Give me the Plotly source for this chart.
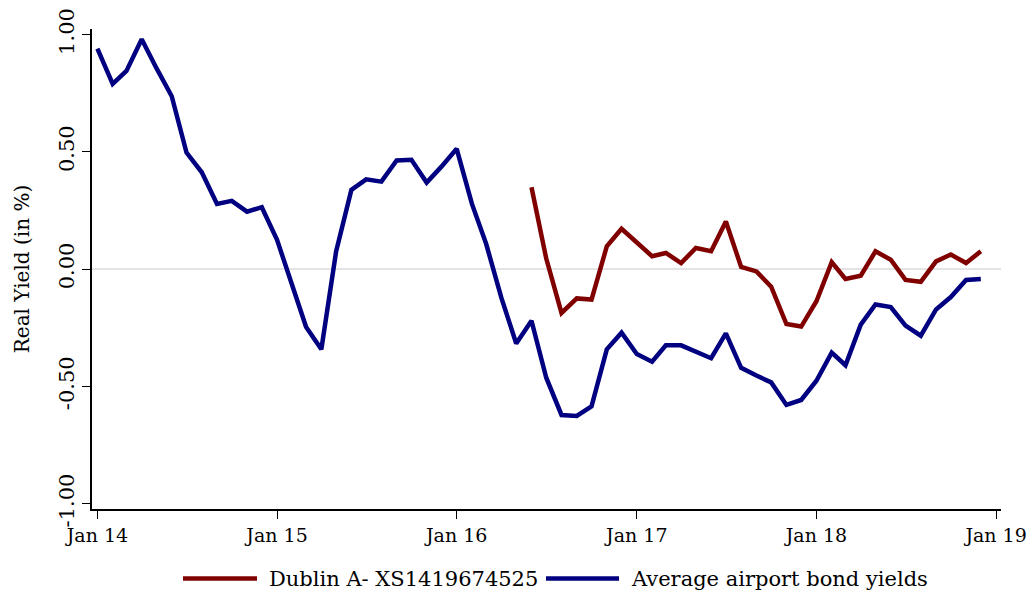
import pandas as pd
import plotly.graph_objects as go

# Monthly real yields (in %)
avg_dates = pd.date_range("2014-01-01", periods=60, freq="MS")
avg_airport = [
    0.940, 0.790, 0.845, 0.980, 0.857, 0.737, 0.497, 0.413, 0.278, 0.291, 0.245, 0.264,
    0.125, -0.075, -0.247, -0.342, 0.075, 0.338, 0.383, 0.373, 0.463, 0.466, 0.369, 0.437,
    0.513, 0.278, 0.107, -0.124, -0.317, -0.220, -0.463, -0.622, -0.626, -0.585, -0.342, -0.271,
    -0.362, -0.395, -0.325, -0.325, -0.353, -0.380, -0.274, -0.421, -0.454, -0.483, -0.579, -0.558,
    -0.476, -0.356, -0.410, -0.237, -0.151, -0.162, -0.241, -0.284, -0.172, -0.119, -0.046, -0.042,
]

dublin_dates = pd.date_range("2016-06-01", periods=31, freq="MS")
dublin = [
    0.349, 0.045, -0.187, -0.125, -0.130, 0.097, 0.172,
    0.115, 0.055, 0.069, 0.026, 0.090, 0.076, 0.203, 0.009, -0.010, -0.075, -0.234, -0.245,
    -0.137, 0.030, -0.042, -0.028, 0.076, 0.040, -0.046, -0.054, 0.033, 0.062, 0.026, 0.076,
]

x_tickvals = ["2014-01-01", "2015-01-01", "2016-01-01", "2017-01-01", "2018-01-01", "2019-01-01"]
x_ticktext = ["Jan 14", "Jan 15", "Jan 16", "Jan 17", "Jan 18", "Jan 19"]
y_tickvals = [-1.0, -0.5, 0.0, 0.5, 1.0]
y_ticktext = ["-1.00", "-0.50", "0.00", "0.50", "1.00"]

series = [
    ("Dublin A- XS1419674525", dublin_dates, dublin, "#800000"),
    ("Average airport bond yields", avg_dates, avg_airport, "#000080"),
]

FONT = "DejaVu Serif"

fig = go.Figure()
for name, xs, ys, color in series:
    fig.add_trace(go.Scatter(
        x=xs, y=ys, mode="lines", name=name,
        line=dict(color=color, width=4.5),
        showlegend=False,
    ))

# Legend drawn below the axis: long line keys followed by labels
legend_y = -0.145
key_spans = [(0.1001, 0.1815), (0.4994, 0.5798)]
for (name, _, _, color), (x0, x1) in zip(series, key_spans):
    fig.add_shape(type="line", xref="paper", yref="paper",
                  x0=x0, x1=x1, y0=legend_y, y1=legend_y,
                  line=dict(color=color, width=4.5))
    fig.add_annotation(xref="paper", yref="paper", x=x1 + 0.011, y=legend_y,
                       text=name, showarrow=False, xanchor="left", yanchor="middle",
                       font=dict(family=FONT, size=21, color="#000000"))

fig.update_layout(
    width=1030, height=592,
    margin=dict(l=92, r=29, t=29, b=83),
    paper_bgcolor="white", plot_bgcolor="white",
    font=dict(family=FONT, size=21, color="#000000"),
    xaxis=dict(
        range=["2013-12-21", "2019-01-11"],
        tickvals=x_tickvals, ticktext=x_ticktext,
        automargin=False,
        showgrid=False, zeroline=False,
        showline=True, linecolor="#000000", linewidth=1.5,
        ticks="outside", ticklen=8, tickwidth=1.2, tickcolor="#000000",
        tickfont=dict(family=FONT, size=19),
    ),
    yaxis=dict(
        range=[-1.023, 1.024],
        tickvals=y_tickvals, ticktext=y_ticktext,
        tickangle=-90,
        automargin=False,
        showgrid=False,
        zeroline=True, zerolinecolor="#e4e4e4", zerolinewidth=2,
        showline=True, linecolor="#000000", linewidth=1.5,
        ticks="outside", ticklen=8, tickwidth=1.2, tickcolor="#000000",
        tickfont=dict(family=FONT, size=21),
        title=dict(text="Real Yield (in %)", font=dict(family=FONT, size=20), standoff=20),
    ),
)

fig.write_html("out.html")
